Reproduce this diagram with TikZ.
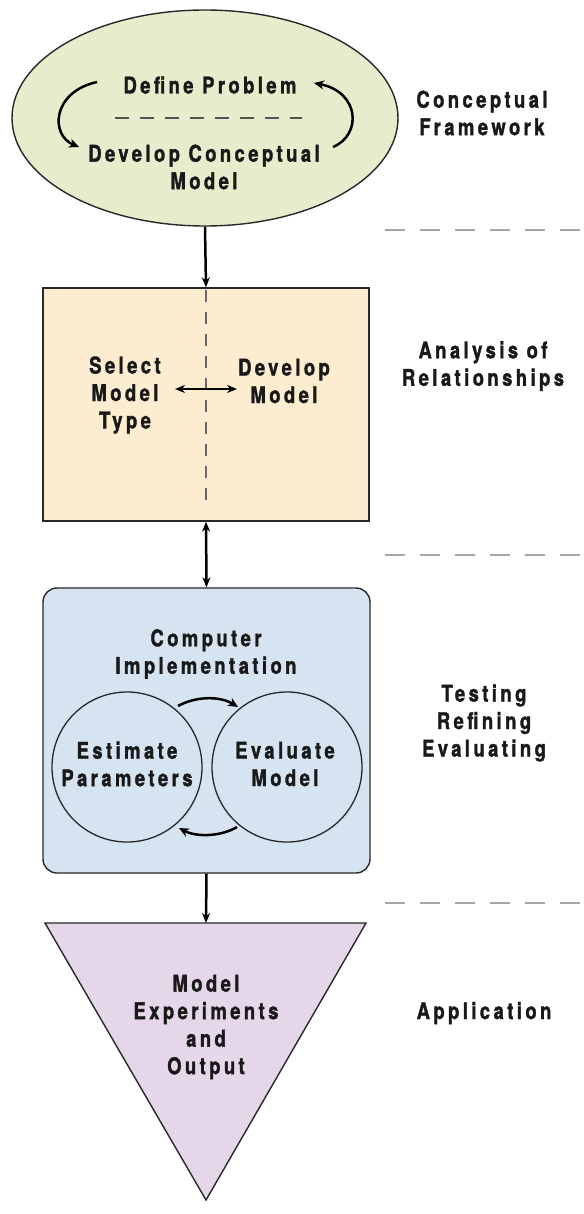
\documentclass[tikz,border=0pt]{standalone}
\usepackage{fontspec}
\usetikzlibrary{shapes.geometric,arrows.meta}
\newfontfamily\lab[FakeStretch=0.80,LetterSpace=15,FakeBold=1.5]{TeX Gyre Heros}
\definecolor{elfill}{RGB}{229,237,204}
\definecolor{rcfill}{RGB}{252,236,208}
\definecolor{bxfill}{RGB}{214,228,242}
\definecolor{trfill}{RGB}{229,215,233}
\definecolor{edge}{RGB}{40,40,40}
\definecolor{sep}{RGB}{165,165,165}
\begin{document}
\begin{tikzpicture}[x=1pt,y=-1pt,
  txt/.style={font=\lab\bfseries\fontsize{23}{27.5}\selectfont,align=center,inner sep=0pt,text=black!90},
  shapeline/.style={draw=edge,line width=1.4pt},
  conn/.style={line width=2.5pt,-{Stealth[length=10pt,width=8pt]}},
  curv/.style={line width=2.5pt,-{Stealth[length=10pt,width=9pt]}},
  sepline/.style={draw=sep,line width=1.6pt,dash pattern=on 20pt off 15pt}]
\useasboundingbox (0,0) rectangle (583,1214);
% shapes
\node[ellipse,shapeline,fill=elfill,minimum width=386,minimum height=216,inner sep=0pt] (ell) at (205,118) {};
\node[rectangle,shapeline,fill=rcfill,minimum width=326,minimum height=233,inner sep=0pt] (rect) at (206,404.5) {};
\node[rectangle,rounded corners=14pt,shapeline,fill=bxfill,minimum width=327,minimum height=285,inner sep=0pt] (box) at (206.5,730.5) {};
\draw[shapeline,fill=trfill] (45,923) coordinate (tl) -- (366,923) coordinate (tr) -- (206,1200) coordinate (tb) -- cycle;
\coordinate (tri) at (206,923);
% separators
\coordinate (s1a) at (385,230); \coordinate (s1b) at (583,230);
\coordinate (s2a) at (385,555); \coordinate (s2b) at (583,555);
\coordinate (s3a) at (385,903); \coordinate (s3b) at (583,903);
\draw[sepline] (s1a) -- (s1b);
\draw[sepline] (s2a) -- (s2b);
\draw[sepline] (s3a) -- (s3b);
% ellipse content
\node[txt] (dp) at (210,85) {Define Problem};
\node[txt] (dcm) at (204,167) {Develop Conceptual\\Model};
\coordinate (d1) at (115,118); \coordinate (d2) at (302,118);
\draw[draw=edge!80,line width=1.1pt,dash pattern=on 14pt off 11pt] (d1) -- (d2);
\coordinate (la) at (97,82); \coordinate (lb) at (79,147);
\coordinate (ra) at (333,147); \coordinate (rb) at (314,83);
\draw[curv] (la) .. controls (52,92) and (50,135) .. (lb);
\draw[curv] (ra) .. controls (362,135) and (360,92) .. (rb);
% rectangle content
\coordinate (vt) at (206,290); \coordinate (vb) at (206,500);
\draw[draw=edge!70,line width=1.1pt,dash pattern=on 12pt off 10pt] (vt) -- (vb);
\node[txt] (smt) at (125,395) {Select\\Model\\Type};
\node[txt] (dm) at (284,381) {Develop\\Model};
\draw[line width=2.5pt,{Stealth[length=10pt,width=8pt]}-{Stealth[length=10pt,width=8pt]}] (175,389) coordinate (ha) -- (237,389) coordinate (hb);
% box content
\node[txt] (ci) at (206,654) {Computer\\Implementation};
\node[circle,draw=edge,line width=1.3pt,minimum size=150,inner sep=0pt] (ep) at (127,767) {};
\node[circle,draw=edge,line width=1.3pt,minimum size=150,inner sep=0pt] (em) at (287,767) {};
\node[txt] (ept) at (127,764) {Estimate\\Parameters};
\node[txt] (emt) at (285,764) {Evaluate\\Model};
\coordinate (ta) at (178,706); \coordinate (tb2) at (238,707);
\coordinate (ba) at (237,827); \coordinate (bb) at (179,828);
\draw[curv] (ta) .. controls (196,696) and (220,696) .. (tb2);
\draw[curv] (ba) .. controls (220,837) and (196,837) .. (bb);
% triangle content
\node[txt] (meo) at (206,1027) {Model\\Experiments\\and\\Output};
% connectors
\draw[conn] (ell.south) -- (rect.north);
\draw[line width=2.5pt,{Stealth[length=10pt,width=8pt]}-{Stealth[length=10pt,width=8pt]}] (rect.south) -- (box.north);
\draw[conn] (box.south) -- (tri);
% right labels
\node[txt] (l1) at (482,113) {Conceptual\\Framework};
\node[txt] (l2) at (483,366) {Analysis of\\Relationships};
\node[txt] (l3) at (484,723) {Testing\\Refining\\Evaluating};
\node[txt] (l4) at (484,1013) {Application};
\end{tikzpicture}
\end{document}
